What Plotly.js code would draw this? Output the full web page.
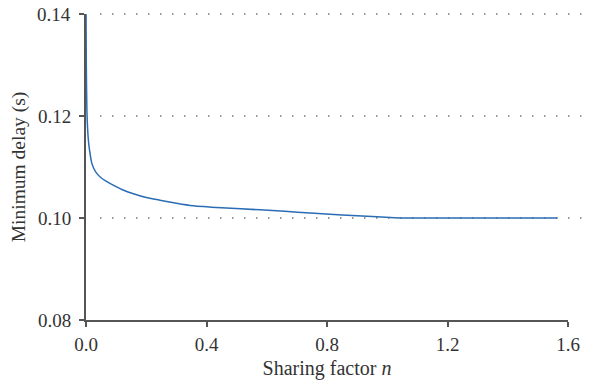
<!DOCTYPE html>
<html>
<head>
<meta charset="utf-8">
<script src="https://cdn.plot.ly/plotly-3.0.1.min.js"></script>
<style>html,body{margin:0;padding:0;background:#fff;}#chart{width:606px;height:387px;}</style>
</head>
<body>
<div id="chart"></div>
<script>
var sharingFactor = [0, 0.001, 0.003, 0.0077, 0.012, 0.019, 0.026, 0.035, 0.05, 0.068, 0.095, 0.123, 0.16, 0.2, 0.245, 0.3, 0.356, 0.45, 0.578, 0.66, 0.744, 0.85, 0.95, 1.01, 1.05, 1.2, 1.4, 1.565];
var minimumDelay  = [0.142, 0.13, 0.121, 0.1154, 0.1132, 0.1108, 0.1097, 0.1088, 0.1079, 0.1072, 0.1063, 0.1055, 0.1047, 0.1040, 0.1035, 0.1029, 0.1024, 0.1020, 0.1016, 0.1013, 0.1010, 0.1006, 0.1003, 0.1001, 0.1000, 0.1000, 0.1000, 0.1000];
var xTicks = [0, 0.4, 0.8, 1.2, 1.6];
var xTickText = ['0.0', '0.4', '0.8', '1.2', '1.6'];
var yTicks = [0.08, 0.10, 0.12, 0.14];
var yTickText = ['0.08', '0.10', '0.12', '0.14'];
var gridValues = [0.10, 0.12, 0.14];
var yMin = 0.08, yMax = 0.14;

var font = 'Liberation Serif, Times New Roman, serif';
var shapes = gridValues.map(function (v) {
  var yp = (v - yMin) / (yMax - yMin);
  return {type: 'line', xref: 'paper', yref: 'paper', x0: 0.029, x1: 1.029, y0: yp, y1: yp,
          layer: 'below', line: {color: '#777', width: 1.5, dash: '1.5px,10.5px'}};
});

var yLabels = yTicks.map(function (v, i) {
  return {xref: 'paper', yref: 'y', x: 0, y: v, xshift: -13, xanchor: 'right', yanchor: 'middle',
          text: yTickText[i], showarrow: false, font: {family: font, size: 19, color: '#333'}};
});

var trace = {
  x: sharingFactor, y: minimumDelay, type: 'scatter', mode: 'lines',
  line: {color: '#2a6db5', width: 1.5, shape: 'spline', smoothing: 0.4},
  hoverinfo: 'none'
};

var layout = {
  width: 606, height: 387,
  margin: {l: 86, r: 38, t: 14, b: 67},
  paper_bgcolor: '#fff', plot_bgcolor: '#fff',
  showlegend: false,
  font: {family: font, size: 19, color: '#333'},
  xaxis: {
    range: [0, 1.6], tickvals: xTicks, ticktext: xTickText,
    showgrid: false, zeroline: false, showline: true, linecolor: '#555', linewidth: 2,
    ticks: 'outside', ticklen: 5, tickcolor: '#555', tickwidth: 2, ticklabelstandoff: 1,
    tickfont: {family: font, size: 19, color: '#333'},
    title: {text: 'Sharing factor <i>n</i>', font: {family: font, size: 20, color: '#333'}, standoff: 7}
  },
  yaxis: {
    range: [yMin, yMax], tickvals: yTicks, showticklabels: false,
    showgrid: false, zeroline: false, showline: true, linecolor: '#555', linewidth: 2,
    ticks: 'outside', ticklen: 5, tickcolor: '#555', tickwidth: 2,
    title: {text: 'Minimum delay (s)', font: {family: font, size: 19.5, color: '#333'}, standoff: 48}
  },
  annotations: yLabels,
  shapes: shapes
};

Plotly.newPlot('chart', [trace], layout, {displayModeBar: false, staticPlot: true});
</script>
</body>
</html>
